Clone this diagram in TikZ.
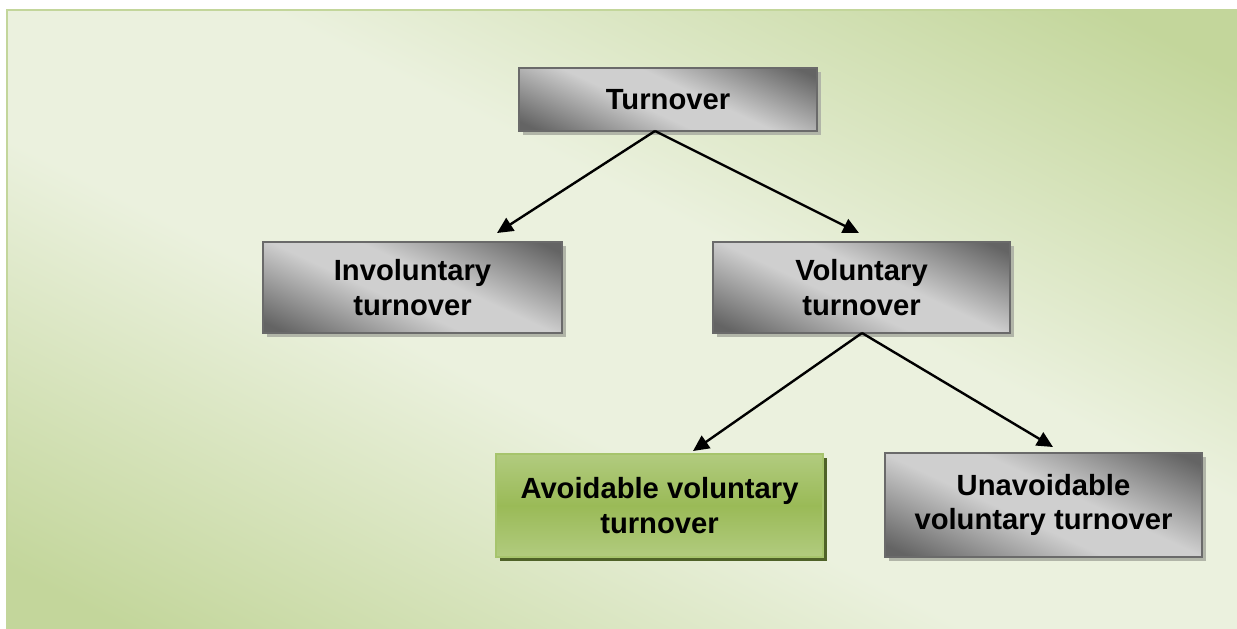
\documentclass[tikz,border=0pt]{standalone}
\usepackage{fontspec}
\setmainfont{Liberation Sans}
\usetikzlibrary{arrows.meta,shadows}
\definecolor{bglight}{HTML}{EBF1DE}
\definecolor{bggreen}{HTML}{C3D69B}
\definecolor{gdark}{HTML}{646464}
\definecolor{glight}{HTML}{CFCFCF}
\definecolor{gborder}{HTML}{6A6A6A}
\definecolor{gshadow}{HTML}{B1B5A8}
\definecolor{grlight}{HTML}{C9DDA7}
\definecolor{grmid}{HTML}{9ABA57}
\definecolor{grborder}{HTML}{A6C46C}
\definecolor{grshadow}{HTML}{4F6228}
\pgfdeclareverticalshading{bgshade}{100bp}{color(0bp)=(bggreen); color(20bp)=(bggreen); color(43bp)=(bglight); color(57bp)=(bglight); color(80bp)=(bggreen); color(100bp)=(bggreen)}
\pgfdeclareverticalshading{grayshade}{100bp}{color(0bp)=(gdark); color(20bp)=(gdark); color(44bp)=(glight); color(56bp)=(glight); color(80bp)=(gdark); color(100bp)=(gdark)}
\pgfdeclareverticalshading{greenshade}{100bp}{color(0bp)=(grlight); color(50bp)=(grmid); color(100bp)=(grlight)}
\tikzset{
  boxtext/.style={font=\bfseries\fontsize{14.6}{17.2}\selectfont, align=center, inner sep=0pt},
  graybox/.style={boxtext, draw=gborder, line width=1.3pt, shading=grayshade, shading angle=-25,
    drop shadow={fill=gshadow, opacity=1, shadow xshift=2pt, shadow yshift=-2pt}},
  greenbox/.style={boxtext, draw=grborder, line width=1.3pt, shading=greenshade,
    drop shadow={fill=grshadow, opacity=1, shadow xshift=2pt, shadow yshift=-2pt}},
  conn/.style={line width=1.2pt, -{Triangle[length=8pt,width=7.5pt]}}
}
\begin{document}
\begin{tikzpicture}[x=0.5pt,y=-0.5pt]
\useasboundingbox (0,0) rectangle (1237,628);
\fill[bglight] (7,10) rectangle (1245,636);
\path[shading=bgshade, shading angle=-27] (7,10) rectangle (1245,636);
\draw[bggreen, line width=1.2pt] (1245,10) -- (7,10) -- (7,636);

\node[graybox, minimum width=149pt, minimum height=31.5pt] (top) at (668,99.5) {Turnover};
\node[graybox, minimum width=149.5pt, minimum height=45.5pt] (invol) at (412.5,287.5) {Involuntary\\turnover};
\node[graybox, minimum width=148.5pt, minimum height=45.5pt] (vol) at (861.5,287.5) {Voluntary\\turnover};
\node[greenbox, minimum width=163.5pt, minimum height=51.5pt] (avoid) at (659.5,505.5) {Avoidable voluntary\\turnover};
\node[graybox, minimum width=158.5pt, minimum height=52pt] (unavoid) at (1043.5,505) {Unavoidable\\voluntary turnover};

\coordinate (topout) at (655,131);
\coordinate (involin) at (497,233);
\coordinate (volin) at (859,233);
\coordinate (volout) at (862,333);
\coordinate (avoidin) at (693,451);
\coordinate (unavoidin) at (1053,447);

\draw[conn] (topout) -- (involin);
\draw[conn] (topout) -- (volin);
\draw[conn] (volout) -- (avoidin);
\draw[conn] (volout) -- (unavoidin);
\end{tikzpicture}
\end{document}
